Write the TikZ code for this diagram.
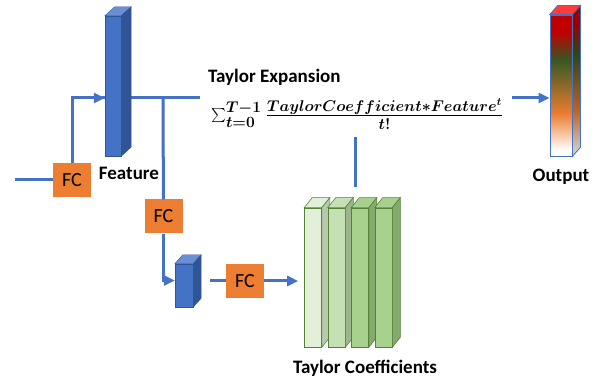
\documentclass[tikz,border=0pt]{standalone}
\usepackage{graphicx}
\usepackage{fontspec}
\setmainfont{Carlito}
\usetikzlibrary{arrows.meta,positioning}

\definecolor{lineblue}{HTML}{4472C4}
\definecolor{barfront}{HTML}{4472C4}
\definecolor{barside}{HTML}{2F5597}
\definecolor{bartop}{HTML}{6B8FD6}
\definecolor{fcorange}{HTML}{ED7D31}
\definecolor{greenedge}{HTML}{548235}
\definecolor{gA}{HTML}{E2F0D9}
\definecolor{gAs}{HTML}{B9C9AE}
\definecolor{gB}{HTML}{C5E0B4}
\definecolor{gBs}{HTML}{9DB58C}
\definecolor{gC}{HTML}{A9D18E}
\definecolor{gCs}{HTML}{86A970}
\definecolor{outred}{HTML}{C00000}
\definecolor{outgreen}{HTML}{385723}
\definecolor{outtop}{HTML}{FF3B3B}

% only 25bp--75bp of a shading is shown on the path
\pgfdeclareverticalshading{outfront}{100bp}{color(0bp)=(white); color(27bp)=(white); color(40bp)=(fcorange); color(59bp)=(outgreen); color(69bp)=(outred); color(100bp)=(outred)}
\pgfdeclareverticalshading{outside}{100bp}{color(0bp)=(black!20); color(27bp)=(black!20); color(40bp)=(fcorange!80!black); color(59bp)=(outgreen!80!black); color(69bp)=(outred!80!black); color(100bp)=(outred!80!black)}

% top and side faces of a block, #1 front node, #2 depth
\newcommand{\barfaces}[4]{%
  \path[#3] (#1.north west) -- ++#2 -- ([shift={#2}]#1.north east) -- (#1.north east) -- cycle;
  \path[#4] (#1.north east) -- ([shift={#2}]#1.north east) -- ([shift={#2}]#1.south east) -- (#1.south east) -- cycle;}
\newcommand{\bigsum}{\mathop{\vcenter{\hbox{\scalebox{1.3}{$\sum$}}}}\nolimits}

\tikzset{
  line/.style={draw=lineblue, line width=3pt},
  arr/.style={-{Triangle[length=11pt,width=10pt]}},
  fc/.style={fill=fcorange, minimum width=38pt, minimum height=34pt, inner sep=0pt,
    font=\fontsize{20}{24}\selectfont},
  lab/.style={font=\bfseries\fontsize{19}{23}\selectfont, inner sep=0pt},
  blockfront/.style={draw=barside, line width=0.4pt, fill=barfront, inner sep=0pt},
  greenfront/.style={draw=greenedge, line width=0.6pt, fill=#1, inner sep=0pt,
    minimum width=17pt, minimum height=139pt},
}

\begin{document}
\begin{tikzpicture}[x=1pt, y=-1pt]
\useasboundingbox (0,0) rectangle (606,379);

% nodes
\node[fc] (fc1) at (72,180) {FC};
\node[fc] (fc2) at (163.5,216.5) {FC};
\node[fc] (fc3) at (245,281) {FC};
\node[anchor=west, inner sep=0pt, font=\fontsize{20}{24}\selectfont\boldmath] (taylor) at (211,114)
  {\scalebox{1.08}{$\bigsum_{t=0}^{T-1}\frac{TaylorCoefficient\ast Feature^{t}}{t!}$}};
\node[lab, anchor=west] (expansion) at (208,77) {Taylor Expansion};
\coordinate (in) at (15,180);
\coordinate (split) at (163,98);
\coordinate (te) at (200,98);
\coordinate (oe) at (512,98);
\coordinate (tc) at (355,137);

% connectors
\draw[line] (in) -- (fc1);
\draw[line] (split) -- (fc2);
\draw[line] ([xshift=-12pt]split -| fc1.east) -- (te);
\draw[line] ([xshift=-16pt]fc3.west) -- (fc3);

% blocks
\node[blockfront, minimum width=16pt, minimum height=140pt] (feature) at (113,86) {};
\barfaces{feature}{(10,-9)}{fill=bartop,draw=barside,line width=0.4pt}{fill=barside,draw=barside,line width=0.4pt}
\node[blockfront, minimum width=18pt, minimum height=43pt] (small) at (184,285.5) {};
\barfaces{small}{(8,-9)}{fill=bartop,draw=barside,line width=0.4pt}{fill=barside,draw=barside,line width=0.4pt}
\foreach \i/\x/\cf/\cs in {1/313/gA/gAs, 2/336.5/gB/gBs, 3/360/gC/gCs, 4/383.5/gC/gCs} {
  \node[greenfront=\cf] (c\i) at (\x,277.5) {};
  \barfaces{c\i}{(8,-10)}{fill=\cf,draw=greenedge,line width=0.6pt}{fill=\cs,draw=greenedge,line width=0.6pt}
}
\node[draw=lineblue, line width=0.8pt, shade, shading=outfront, inner sep=0pt,
  minimum width=22pt, minimum height=141pt] (output) at (561,85.5) {};
\barfaces{output}{(8,-9)}{fill=outtop,draw=lineblue,line width=0.8pt}{shade,shading=outside,draw=lineblue,line width=0.8pt}

% arrows
\draw[line, arr] (fc1.north) |- ([yshift=-12pt]feature.west);
\draw[line, arr] (fc2) |- ([yshift=5pt]small.west);
\draw[line, arr, shorten >=6pt] (fc3) -- (c1.west |- fc3);
\draw[line, shorten >=21pt] (tc) -- (tc |- c3.north);
\draw[line, arr] (oe) -- (output.west |- oe);

% labels
\node[lab] (featurelab) at (129,173) {Feature};
\node[lab, below=12pt of output] (outputlab) {Output};
\node[lab] (coefflab) at (365,368) {Taylor Coefficients};
\end{tikzpicture}
\end{document}
